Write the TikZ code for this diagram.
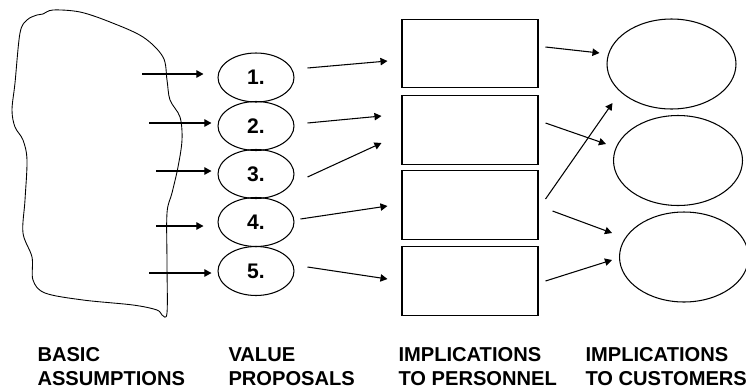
\documentclass[tikz,border=0pt]{standalone}
\usepackage{fontspec}
\setmainfont{Liberation Sans}
\usepackage{tikz}
\usetikzlibrary{calc,positioning,shapes.geometric,arrows.meta}

\begin{document}
\begin{tikzpicture}[x=0.02cm,y=-0.02cm,line width=0.6pt,
        >={Triangle[length=4pt,width=4.2pt]},
        proposal/.style={ellipse,draw,minimum width=1.52cm,minimum height=0.98cm,inner sep=0pt,
                font=\fontsize{12}{14}\selectfont\bfseries},
        personnel/.style={rectangle,draw,minimum width=2.72cm,minimum height=1.37cm,inner sep=0pt},
        customer/.style={ellipse,draw,minimum width=2.58cm,minimum height=1.8cm,inner sep=0pt},
        heading/.style={anchor=base west,align=left,inner sep=0pt,
                font=\fontsize{11.45}{13.6}\selectfont\bfseries}]
        \useasboundingbox (0,0) rectangle (746,389);

        % hand drawn outline of the assumptions
        \draw[line width=0.5pt] plot[smooth cycle,tension=0.55] coordinates {
                (43,14) (53,10) (80,12) (110,22) (143,37) (163,57) (167,80) (170,100)
                (180,117) (182,140) (178,167) (172,193) (167,213) (167,263) (167,313)
                (162,315) (157,310) (133,305) (83,300) (45,293) (33,280) (32,257)
                (23,233) (25,200) (27,160) (23,140) (15,127) (12,110) (15,83)
                (20,33) (27,20) (37,15)};

        \node[proposal] (v1) at (256,77.5) {1.};
        \node[proposal] (v2) at (256,126) {2.};
        \node[proposal] (v3) at (256,174) {3.};
        \node[proposal] (v4) at (256,222) {4.};
        \node[proposal] (v5) at (256,271) {5.};

        \node[personnel] (p1) at (470,53.5) {};
        \node[personnel] (p2) at (470,130) {};
        \node[personnel] (p3) at (470,205) {};
        \node[personnel] (p4) at (470,281) {};

        \node[customer] (c1) at (671.5,64) {};
        \node[customer] (c2) at (678,160.5) {};
        \node[customer] (c3) at (684,257) {};

        \draw[->] ([shift={(-75,-3.5)}]v1.west) -- ([shift={(-14,-3.5)}]v1.west);
        \draw[->] ([shift={(-68,-3)}]v2.west) -- ([shift={(-6,-3)}]v2.west);
        \draw[->] ([shift={(-61,-3)}]v3.west) -- ([shift={(-6,-3)}]v3.west);
        \draw[->] ([shift={(-61,4)}]v4.west) -- ([shift={(-14,4)}]v4.west);
        \draw[->] ([shift={(-68,2)}]v5.west) -- ([shift={(-6,2)}]v5.west);

        \draw[->] ([shift={(13,-9.5)}]v1.east) -- ([shift={(-14,7.5)}]p1.west);
        \draw[->] ([shift={(13,-3)}]v2.east) -- ([shift={(-20,-14)}]p2.west);
        \draw[->] ([shift={(13,3)}]v3.east) -- ([shift={(-20,13)}]p2.west);
        \draw[->] ([shift={(6,-3)}]v4.east) -- ([shift={(-14,1)}]p3.west);
        \draw[->] ([shift={(13,-4)}]v5.east) -- ([shift={(-14,-2)}]p4.west);

        \draw[->] ([shift={(7,-6.5)}]p1.east) -- ([shift={(-7,-11)}]c1.west);
        \draw[->] ([shift={(7,-7)}]p2.east) -- ([shift={(-7,-16.5)}]c2.west);
        \draw[->] ([shift={(7,-6)}]p3.east) -- ([shift={(6,39)}]c1.west);
        \draw[->] ([shift={(14,6)}]p3.east) -- ([shift={(-7,-24)}]c3.west);
        \draw[->] ([shift={(7,0)}]p4.east) -- ([shift={(-7,3)}]c3.west);

        \node[heading] (basic) at (37,385) {BASIC\\ASSUMPTIONS};
        \node[heading] (value) at (228,385) {VALUE\\PROPOSALS};
        \node[heading] (staff) at (398,385) {IMPLICATIONS\\TO PERSONNEL};
        \node[heading] (cust) at (585,385) {IMPLICATIONS\\TO CUSTOMERS};
\end{tikzpicture}
\end{document}
